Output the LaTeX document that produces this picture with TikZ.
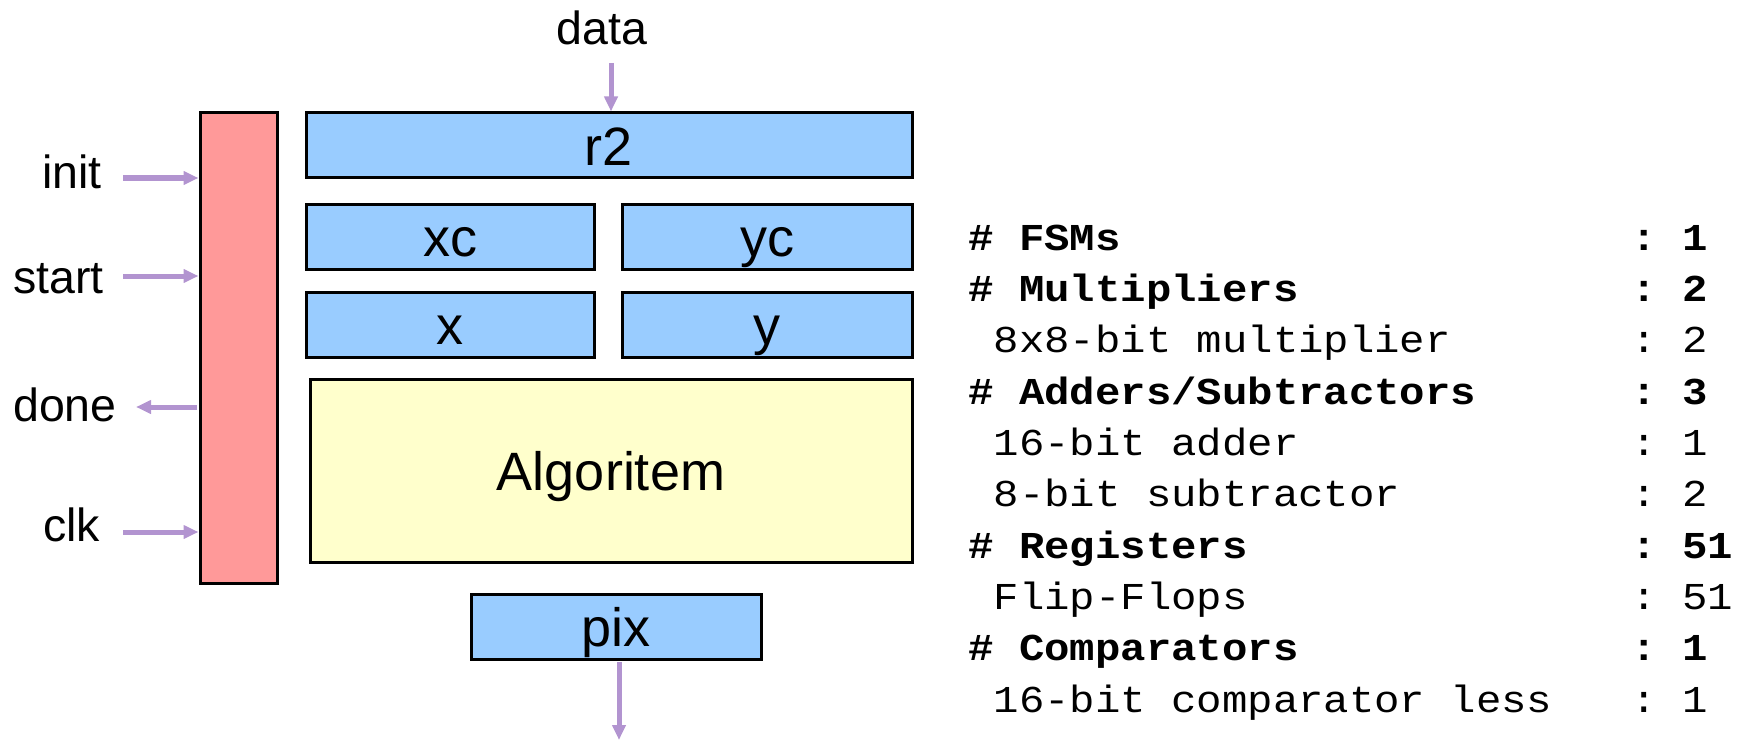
\documentclass[tikz,border=0pt]{standalone}
\usepackage{fontspec}
\setmainfont{Liberation Sans}
\newfontfamily\tblfont[FakeStretch=1.114]{Liberation Mono}
\usetikzlibrary{arrows.meta}
\definecolor{sigcol}{RGB}{178,148,208}
\definecolor{fsmred}{RGB}{255,153,153}
\definecolor{regblue}{RGB}{153,204,255}
\definecolor{algyellow}{RGB}{255,255,204}
\tikzset{
  blk/.style={draw=black, line width=3pt, rectangle, inner sep=0pt,
    font=\fontsize{54}{60}\selectfont, text height=39pt, text depth=0pt},
  regbox/.style={blk, fill=regblue},
  sig/.style={draw=sigcol, line width=5pt, -{Triangle[length=15pt,width=13pt]}},
  lbl/.style={inner sep=0pt, font=\fontsize{46.5}{52}\selectfont},
  tbl/.style={inner sep=0pt, anchor=base west, font=\tblfont\fontsize{38}{44}\selectfont},
  tblb/.style={tbl, font=\tblfont\bfseries\fontsize{38}{44}\selectfont},
}
\begin{document}
\begin{tikzpicture}[x=1pt,y=-1pt]
\useasboundingbox (0,0) rectangle (1746,741);
% blocks
\node[blk, fill=fsmred, minimum width=77pt, minimum height=470pt] (fsm) at (238.5,348) {};
\node[regbox, minimum width=606pt, minimum height=65pt] (r2) at (609,145.5) {r2};
\node[regbox, minimum width=288pt, minimum height=65pt] (xc) at (450,236.5) {xc};
\node[regbox, minimum width=290pt, minimum height=65pt] (yc) at (767,236.5) {yc};
\node[regbox, minimum width=288pt, minimum height=65pt] (x) at (450,324.5) {x};
\node[regbox, minimum width=290pt, minimum height=65pt] (y) at (767,324.5) {y};
\node[blk, fill=algyellow, minimum width=602pt, minimum height=183pt] (alg) at (611,470.5) {Algoritem};
\node[regbox, minimum width=290pt, minimum height=65pt] (pix) at (616,626.5) {pix};
% labels
\node[lbl, anchor=base] (data) at (602,45) {data};
\node[lbl, anchor=base west] (init) at (42,188) {init};
\node[lbl, anchor=base west] (start) at (13,293) {start};
\node[lbl, anchor=base west] (done) at (13,421) {done};
\node[lbl, anchor=base west] (clk) at (43,541) {clk};
% signal coordinates
\coordinate (din) at (611,63);
\coordinate (pout) at (619,740);
\coordinate (initS) at (123,178);
\coordinate (startS) at (123,276);
\coordinate (doneE) at (136,407);
\coordinate (clkS) at (123,532);
% connectors
\draw[sig] (din) -- (din |- r2.north);
\draw[sig, shorten <=1.5pt] (pout |- pix.south) -- (pout);
\draw[sig] (initS) -- (initS -| fsm.west);
\draw[sig] (startS) -- (startS -| fsm.west);
\draw[sig, shorten <=1.5pt] (doneE -| fsm.west) -- (doneE);
\draw[sig] (clkS) -- (clkS -| fsm.west);
% synthesis report
\node[tblb] (t1) at (968,250) {\#~FSMs};
\node[tblb] (t1v) at (1631,250) {:~1};
\node[tblb] (t2) at (968,301.3) {\#~Multipliers};
\node[tblb] (t2v) at (1631,301.3) {:~2};
\node[tbl] (t3) at (993.4,352.7) {8x8-bit~multiplier};
\node[tbl] (t3v) at (1631,352.7) {:~2};
\node[tblb] (t4) at (968,404) {\#~Adders/Subtractors};
\node[tblb] (t4v) at (1631,404) {:~3};
\node[tbl] (t5) at (993.4,455.3) {16-bit~adder};
\node[tbl] (t5v) at (1631,455.3) {:~1};
\node[tbl] (t6) at (993.4,506.7) {8-bit~subtractor};
\node[tbl] (t6v) at (1631,506.7) {:~2};
\node[tblb] (t7) at (968,558) {\#~Registers};
\node[tblb] (t7v) at (1631,558) {:~51};
\node[tbl] (t8) at (993.4,609.3) {Flip-Flops};
\node[tbl] (t8v) at (1631,609.3) {:~51};
\node[tblb] (t9) at (968,660.7) {\#~Comparators};
\node[tblb] (t9v) at (1631,660.7) {:~1};
\node[tbl] (t10) at (993.4,712) {16-bit~comparator~less};
\node[tbl] (t10v) at (1631,712) {:~1};
\end{tikzpicture}
\end{document}
